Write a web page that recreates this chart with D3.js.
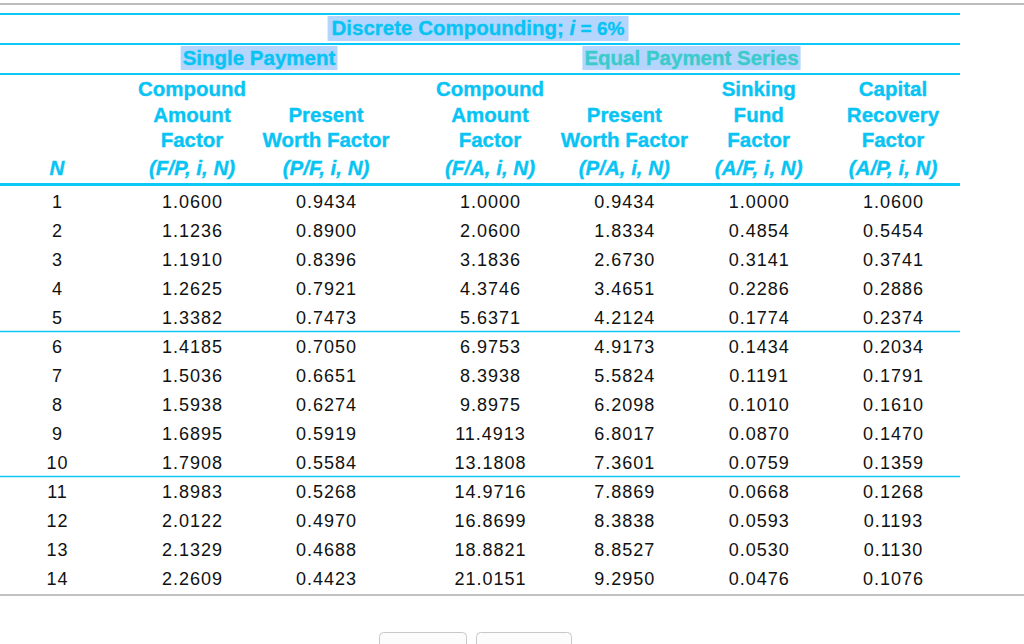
<!DOCTYPE html>
<html>
<head>
<meta charset="utf-8">
<script src="https://cdn.jsdelivr.net/npm/d3@7"></script>
<style>
  html, body { margin: 0; padding: 0; background: #fff; }
  svg { display: block; }
</style>
</head>
<body>
<svg id="chart" width="1024" height="644" font-family="'Liberation Sans', Arimo, Arial, Helvetica, sans-serif"></svg>
<script>
// ---- data ----
const title = ["Discrete Compounding; ", "i", " = 6%"];
const groups = ["Single Payment", "Equal Payment Series"];
const columnKeys = ["FP", "PF", "FA", "PA", "AF", "AP"];
const columnHeaders = [
  ["Compound", "Amount", "Factor", "(F/P, i, N)"],
  ["", "Present", "Worth Factor", "(P/F, i, N)"],
  ["Compound", "Amount", "Factor", "(F/A, i, N)"],
  ["", "Present", "Worth Factor", "(P/A, i, N)"],
  ["Sinking", "Fund", "Factor", "(A/F, i, N)"],
  ["Capital", "Recovery", "Factor", "(A/P, i, N)"]
];
const nLabel = "N";
const N = [1, 2, 3, 4, 5, 6, 7, 8, 9, 10, 11, 12, 13, 14];
const FP = [1.0600, 1.1236, 1.1910, 1.2625, 1.3382, 1.4185, 1.5036, 1.5938, 1.6895, 1.7908, 1.8983, 2.0122, 2.1329, 2.2609];
const PF = [0.9434, 0.8900, 0.8396, 0.7921, 0.7473, 0.7050, 0.6651, 0.6274, 0.5919, 0.5584, 0.5268, 0.4970, 0.4688, 0.4423];
const FA = [1.0000, 2.0600, 3.1836, 4.3746, 5.6371, 6.9753, 8.3938, 9.8975, 11.4913, 13.1808, 14.9716, 16.8699, 18.8821, 21.0151];
const PA = [0.9434, 1.8334, 2.6730, 3.4651, 4.2124, 4.9173, 5.5824, 6.2098, 6.8017, 7.3601, 7.8869, 8.3838, 8.8527, 9.2950];
const AF = [1.0000, 0.4854, 0.3141, 0.2286, 0.1774, 0.1434, 0.1191, 0.1010, 0.0870, 0.0759, 0.0668, 0.0593, 0.0530, 0.0476];
const AP = [1.0600, 0.5454, 0.3741, 0.2886, 0.2374, 0.2034, 0.1791, 0.1610, 0.1470, 0.1359, 0.1268, 0.1193, 0.1130, 0.1076];
const groupBreaks = [5, 10];

const columns = { FP, PF, FA, PA, AF, AP };

// ---- layout ----
const W = 1024, H = 644;
const cyan = "#0cc8f6";
const headText = "#08c4f4";
const teal = "#3ccbcb";
const hilite = "#b4d5fe";
const fontHead = "20.5px";

const svg = d3.select("#chart");

const tableRight = 960;
const xN = 57;
const xSingle = d3.scalePoint().domain(["FP", "PF"]).range([192, 326]);
const xEqual = d3.scalePoint().domain(["FA", "PA", "AF", "AP"]).range([490, 893]);
const xCol = k => (xSingle.domain().includes(k) ? xSingle(k) : xEqual(k));

const yRow = d3.scaleLinear().domain([1, 14]).range([207.5, 584.5]);

// top gray rule
svg.append("line").attr("x1", 0).attr("x2", W).attr("y1", 4).attr("y2", 4)
  .attr("stroke", "#bdbdbd").attr("stroke-width", 2);
// bottom gray rule
svg.append("line").attr("x1", 0).attr("x2", W).attr("y1", 595).attr("y2", 595)
  .attr("stroke", "#c2c2c2").attr("stroke-width", 2);

// cyan rules
[[14, 2], [44, 2], [74, 2], [184.5, 3]].forEach(([y, w]) => {
  svg.append("line").attr("x1", 0).attr("x2", tableRight).attr("y1", y).attr("y2", y)
    .attr("stroke", cyan).attr("stroke-width", w);
});
groupBreaks.forEach(b => {
  const y = Math.round((yRow(b) + yRow(b + 1)) / 2 - 7) + 0.5;
  svg.append("line").attr("x1", 0).attr("x2", tableRight).attr("y1", y).attr("y2", y)
    .attr("stroke", cyan).attr("stroke-width", 1.5);
});

// title with highlight
const tText = svg.append("text").attr("x", 478).attr("y", 35)
  .attr("text-anchor", "middle").attr("font-weight", "bold")
  .attr("font-size", fontHead).attr("fill", headText)
  .attr("stroke", headText).attr("stroke-width", 0.35);
tText.append("tspan").text(title[0]);
tText.append("tspan").attr("font-style", "italic").text(title[1]);
tText.append("tspan").attr("font-size", "19px").text(title[2]);
const tb = tText.node().getBBox();
svg.insert("rect", "text").attr("x", tb.x - 4).attr("y", 16).attr("width", tb.width + 8).attr("height", 25)
  .attr("fill", hilite);

// group headers
const groupCenters = [
  (xSingle("FP") + xSingle("PF")) / 2,
  (xEqual("FA") + xEqual("AP")) / 2
];
groups.forEach((g, i) => {
  const c = i === 0 ? headText : teal;
  const t = svg.append("text").attr("x", groupCenters[i]).attr("y", 65)
    .attr("text-anchor", "middle").attr("font-weight", "bold")
    .attr("font-size", fontHead).attr("fill", c)
    .attr("stroke", c).attr("stroke-width", 0.35).text(g);
  const b = t.node().getBBox();
  svg.insert("rect", "text").attr("x", b.x - 2).attr("y", 46).attr("width", b.width + 4).attr("height", 24)
    .attr("fill", hilite);
});

// column headers
const headBase = [96, 121.5, 147, 175];
const head = svg.append("g").attr("font-weight", "bold").attr("font-size", fontHead)
  .attr("fill", headText).attr("stroke", headText).attr("stroke-width", 0.35)
  .attr("text-anchor", "middle");
columnKeys.forEach((k, ci) => {
  columnHeaders[ci].forEach((line, li) => {
    if (!line) return;
    head.append("text").attr("x", xCol(k)).attr("y", headBase[li])
      .attr("font-style", li === 3 ? "italic" : "normal").text(line);
  });
});
head.append("text").attr("x", xN).attr("y", headBase[3])
  .attr("font-style", "italic").text(nLabel);

// body
const body = svg.append("g").attr("font-size", "18px").attr("fill", "#111")
  .attr("letter-spacing", "1px");
body.selectAll("text.n").data(N).join("text").attr("class", "n")
  .attr("x", xN + 0.5).attr("y", d => yRow(d)).attr("text-anchor", "middle").text(d => d);
columnKeys.forEach(k => {
  body.selectAll("text." + k).data(columns[k]).join("text").attr("class", k)
    .attr("x", xCol(k) + 0.5).attr("y", (d, i) => yRow(N[i]))
    .attr("text-anchor", "middle").text(d => d.toFixed(4));
});

// buttons at bottom
[[379, 87], [476, 95]].forEach(([x, w]) => {
  svg.append("rect").attr("x", x + 0.5).attr("y", 632.5).attr("width", w).attr("height", 20)
    .attr("rx", 4).attr("fill", "#fcfcfc").attr("stroke", "#c8c8c8").attr("stroke-width", 1);
});
</script>
</body>
</html>
